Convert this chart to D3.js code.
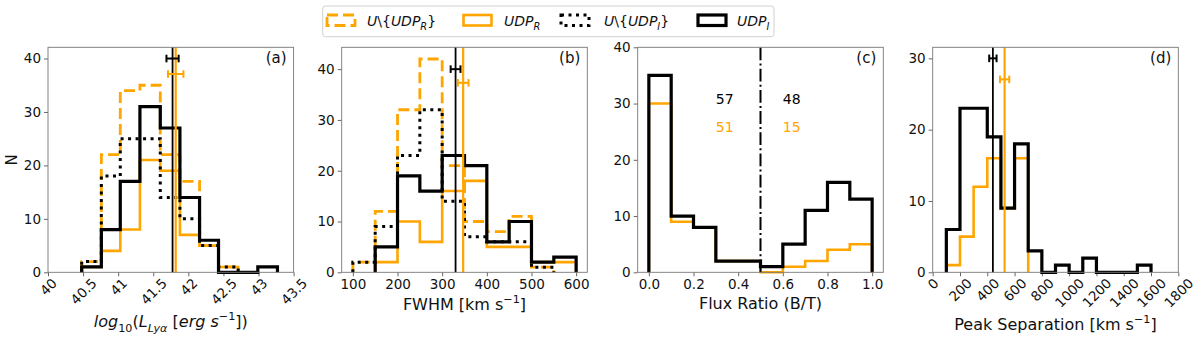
<!DOCTYPE html>
<html>
<head>
<meta charset="utf-8">
<script src="https://cdn.jsdelivr.net/npm/d3@7"></script>
<style>
  body { margin: 0; background: #fff; }
  text { font-family: "DejaVu Sans", sans-serif; }
</style>
</head>
<body>
<svg id="fig" width="1200" height="344"></svg>
<script>
// ---------------- data ----------------
// (a) Lya luminosity
const lumEdges = [40.48, 40.76, 41.03, 41.31, 41.60, 41.88, 42.16, 42.43, 42.71, 42.99, 43.27];
const lumNotR = [2, 22, 34, 35, 22, 17, 5, 1, 0, 0];
const lumUdpR = [1, 4, 8, 21, 19, 7, 5, 1, 0, 0];
const lumNotI = [2, 18, 25, 25, 14, 10, 5, 1, 0, 0];
const lumUdpI = [1, 8, 17, 31, 27, 14, 6, 0, 0, 1];
const lumTicks = [40, 40.5, 41, 41.5, 42, 42.5, 43, 43.5];

// (b) FWHM
const fwhmEdges = [100, 150, 200, 250, 300, 350, 400, 450, 500, 550, 600];
const fwhmNotR = [2, 12, 32, 42, 21, 10, 8, 11, 1, 0];
const fwhmUdpR = [0, 2, 10, 6, 16, 18, 5, 5, 2, 2];
const fwhmNotI = [2, 9, 23, 32, 14, 7, 6, 6, 1, 0];
const fwhmUdpI = [0, 5, 19, 16, 23, 21, 6, 10, 2, 3];
const fwhmTicks = [100, 200, 300, 400, 500, 600];

// (c) flux ratio
const ratioEdges = [0, 0.1, 0.2, 0.3, 0.4, 0.5, 0.6, 0.7, 0.8, 0.9, 1.0];
const ratioUdpR = [30, 9, 8, 2, 2, 0, 1, 2, 4, 5];
const ratioUdpI = [35, 10, 8, 2, 2, 1, 5, 11, 16, 13];
const ratioTicks = [0, 0.2, 0.4, 0.6, 0.8, 1.0];
const ratioCounts = [
  { x: 0.34, y: 30.8, label: "57", color: "black" },
  { x: 0.64, y: 30.8, label: "48", color: "black" },
  { x: 0.34, y: 25.9, label: "51", color: "orange" },
  { x: 0.64, y: 25.9, label: "15", color: "orange" }
];

// (d) peak separation
const sepEdges = [100, 200, 300, 400, 500, 600, 700, 800, 900, 1000, 1100, 1200, 1300, 1400, 1500, 1600];
const sepUdpR = [1, 5, 12, 16, 9, 16, 0, 0, 0, 0, 0, 0, 0, 0, 0];
const sepUdpI = [6, 23, 23, 19, 9, 18, 3, 0, 1, 0, 2, 0, 0, 0, 1];
const sepTicks = [0, 200, 400, 600, 800, 1000, 1200, 1400, 1600, 1800];

// medians with errors: [value, error, height of errorbar]
const lumMedI = [41.775, 0.087, 40.0];
const lumMedR = [41.82, 0.11, 37.1];
const fwhmMedI = [330, 11, 40.0];
const fwhmMedR = [347, 12, 37.3];
const sepMedI = [441, 27, 30.0];
const sepMedR = [527, 34, 27.05];

// ---------------- layout ----------------
const ORANGE = "#ffa500";
const panelW = 245.6;
const panelTop = 47.3, panelBottom = 272.3;
const tickFont = 13.5, labelFont = 16;

const styles = {
  notR: { stroke: ORANGE, width: 2.8, dash: "11,5" },
  udpR: { stroke: ORANGE, width: 2.6, dash: null },
  notI: { stroke: "#000", width: 3, dash: "3,4.5" },
  udpI: { stroke: "#000", width: 3.2, dash: null }
};

const svg = d3.select("#fig");

// step outline like matplotlib histtype='step' (leading / trailing empty bins skipped)
function stepPath(edges, counts, x, y) {
  let i0 = counts.findIndex(c => c > 0);
  let i1 = counts.length - 1;
  while (i1 > 0 && counts[i1] === 0) i1--;
  let d = `M${x(edges[i0])},${y(0)}`;
  for (let i = i0; i <= i1; i++) {
    d += `V${y(counts[i])}H${x(edges[i + 1])}`;
  }
  return d + `V${y(0)}`;
}

// text made of pieces: {t, it, sub, sup}
function richText(sel, parts, size) {
  let shift = 0;
  parts.forEach(p => {
    let target = p.sub ? 0.3 * size : p.sup ? -0.42 * size : 0;
    sel.append("tspan")
      .attr("dy", target - shift)
      .style("font-size", (p.sub || p.sup) ? (size * 0.7) + "px" : size + "px")
      .style("font-style", p.it ? "italic" : "normal")
      .text(p.t);
    shift = target;
  });
}

const panels = [
  {
    left: 48, xDomain: [40, 43.5], yDomain: [0, 42.1], xTicks: lumTicks, yTicks: [0, 10, 20, 30, 40],
    xFmt: d => String(d), rotate: true, tag: "(a)", labelY: 327,
    edges: lumEdges, series: [["notR", lumNotR], ["udpR", lumUdpR], ["notI", lumNotI], ["udpI", lumUdpI]],
    medI: lumMedI, medR: lumMedR,
    label: [{ t: "log", it: true }, { t: "10", sub: true }, { t: "(" }, { t: "L", it: true }, { t: "Lyα", it: true, sub: true },
            { t: " [" }, { t: "erg s", it: true }, { t: "−1", sup: true }, { t: "])" }]
  },
  {
    left: 341.7, xDomain: [75, 625], yDomain: [0, 44.3], xTicks: fwhmTicks, yTicks: [0, 10, 20, 30, 40],
    xFmt: d => String(d), rotate: false, tag: "(b)", labelY: 310,
    edges: fwhmEdges, series: [["notR", fwhmNotR], ["udpR", fwhmUdpR], ["notI", fwhmNotI], ["udpI", fwhmUdpI]],
    medI: fwhmMedI, medR: fwhmMedR,
    label: [{ t: "FWHM [km s" }, { t: "−1", sup: true }, { t: "]" }]
  },
  {
    left: 637.7, xDomain: [-0.05, 1.05], yDomain: [0, 40], xTicks: ratioTicks, yTicks: [0, 10, 20, 30, 40],
    xFmt: d3.format(".1f"), rotate: false, tag: "(c)", labelY: 309,
    edges: ratioEdges, series: [["udpR", ratioUdpR], ["udpI", ratioUdpI]],
    divider: 0.5, counts: ratioCounts,
    label: [{ t: "Flux Ratio (B/T)" }]
  },
  {
    left: 932.7, xDomain: [0, 1800], yDomain: [0, 31.55], xTicks: sepTicks, yTicks: [0, 10, 20, 30],
    xFmt: d => String(d), rotate: true, tag: "(d)", labelY: 330,
    edges: sepEdges, series: [["udpR", sepUdpR], ["udpI", sepUdpI]],
    medI: sepMedI, medR: sepMedR,
    label: [{ t: "Peak Separation [km s" }, { t: "−1", sup: true }, { t: "]" }]
  }
];

panels.forEach(p => {
  const g = svg.append("g");
  const x = d3.scaleLinear().domain(p.xDomain).range([p.left, p.left + panelW]);
  const y = d3.scaleLinear().domain(p.yDomain).range([panelBottom, panelTop]);

  // axes
  const gx = g.append("g")
    .attr("transform", `translate(0,${panelBottom})`)
    .call(d3.axisBottom(x).tickValues(p.xTicks).tickFormat(p.xFmt).tickSize(4).tickPadding(3));
  const gy = g.append("g")
    .attr("transform", `translate(${p.left},0)`)
    .call(d3.axisLeft(y).tickValues(p.yTicks).tickSize(4).tickPadding(3));
  [gx, gy].forEach(a => {
    a.select(".domain").remove();
    a.selectAll(".tick line").attr("stroke", "#666");
    a.selectAll(".tick text").attr("fill", "#111").style("font-size", tickFont + "px")
      .style("font-family", "'DejaVu Sans', sans-serif");
  });
  if (p.rotate) {
    gx.selectAll(".tick text").each(function () {
      const w = this.getComputedTextLength();
      const h = tickFont * 0.73;
      d3.select(this)
        .attr("y", null).attr("dy", "0.35em").attr("text-anchor", "middle")
        .attr("transform", `translate(0,${5 + (w + h) / (2 * Math.SQRT2)}) rotate(-45)`);
    });
  }

  // histograms
  p.series.forEach(([key, counts]) => {
    const s = styles[key];
    g.append("path")
      .attr("d", stepPath(p.edges, counts, x, y))
      .attr("fill", "none")
      .attr("stroke", s.stroke)
      .attr("stroke-width", s.width)
      .attr("stroke-dasharray", s.dash)
      .attr("stroke-linejoin", "miter");
  });

  // median lines with error bars
  [["medI", "#000", 1.8], ["medR", ORANGE, 2.2]].forEach(([k, col, lw]) => {
    const m = p[k];
    if (!m) return;
    g.append("line")
      .attr("x1", x(m[0])).attr("x2", x(m[0]))
      .attr("y1", panelTop).attr("y2", panelBottom)
      .attr("stroke", col).attr("stroke-width", lw);
  });
  [["medI", "#000"], ["medR", ORANGE]].forEach(([k, col]) => {
    const m = p[k];
    if (!m) return;
    const yy = y(m[2]);
    g.append("line")
      .attr("x1", x(m[0] - m[1])).attr("x2", x(m[0] + m[1]))
      .attr("y1", yy).attr("y2", yy)
      .attr("stroke", col).attr("stroke-width", 2);
    [m[0] - m[1], m[0] + m[1]].forEach(v => {
      g.append("line")
        .attr("x1", x(v)).attr("x2", x(v))
        .attr("y1", yy - 3.8).attr("y2", yy + 3.8)
        .attr("stroke", col).attr("stroke-width", 2);
    });
  });

  // split line and counts in panel (c)
  if (p.divider !== undefined) {
    g.append("line")
      .attr("x1", x(p.divider)).attr("x2", x(p.divider))
      .attr("y1", y(0)).attr("y2", panelTop)
      .attr("stroke", "#000").attr("stroke-width", 2)
      .attr("stroke-dasharray", "12.8,3.2,2,3.2");
    g.selectAll(".cnt").data(p.counts).enter().append("text")
      .attr("x", d => x(d.x)).attr("y", d => y(d.y))
      .attr("dy", "0.36em").attr("text-anchor", "middle")
      .style("font-size", "14px")
      .attr("fill", d => d.color === "orange" ? ORANGE : "#000")
      .text(d => d.label);
  }

  // frame
  g.append("rect")
    .attr("x", p.left).attr("y", panelTop)
    .attr("width", panelW).attr("height", panelBottom - panelTop)
    .attr("fill", "none").attr("stroke", "#777").attr("stroke-width", 0.9);

  // panel tag
  g.append("text")
    .attr("x", p.left + panelW - 7).attr("y", panelTop + 16)
    .attr("text-anchor", "end").style("font-size", "15px").attr("fill", "#111")
    .text(p.tag);

  // x label
  const lab = g.append("text")
    .attr("x", p.left + panelW / 2).attr("y", p.labelY)
    .attr("text-anchor", "middle").attr("fill", "#111");
  richText(lab, p.label, labelFont);
});

// y label
svg.append("text")
  .attr("transform", `translate(17,${(panelTop + panelBottom) / 2}) rotate(-90)`)
  .attr("text-anchor", "middle").style("font-size", "15px").attr("fill", "#111")
  .text("N");

// ---------------- legend ----------------
const legendItems = [
  { key: "notR", patchX: 327, textX: 367, parts: [{ t: "U", it: true }, { t: "\\{" }, { t: "UDP", it: true }, { t: "R", it: true, sub: true }, { t: "}" }] },
  { key: "udpR", patchX: 463.5, textX: 504, parts: [{ t: "UDP", it: true }, { t: "R", it: true, sub: true }] },
  { key: "notI", patchX: 561, textX: 604, parts: [{ t: "U", it: true }, { t: "\\{" }, { t: "UDP", it: true }, { t: "I", it: true, sub: true }, { t: "}" }] },
  { key: "udpI", patchX: 698, textX: 737, parts: [{ t: "UDP", it: true }, { t: "I", it: true, sub: true }] }
];
const leg = svg.append("g");
leg.append("rect")
  .attr("x", 322.7).attr("y", 6).attr("width", 451.3).attr("height", 30.7)
  .attr("rx", 3).attr("fill", "#fff").attr("stroke", "#d0d0d0").attr("stroke-width", 1);
legendItems.forEach(it => {
  const s = styles[it.key];
  leg.append("rect")
    .attr("x", it.patchX).attr("y", 15).attr("width", 28).attr("height", 10.5)
    .attr("fill", "none").attr("stroke", s.stroke).attr("stroke-width", s.width)
    .attr("stroke-dasharray", s.dash);
  const t = leg.append("text").attr("x", it.textX).attr("y", 26).attr("fill", "#111");
  richText(t, it.parts, 14);
});
</script>
</body>
</html>
